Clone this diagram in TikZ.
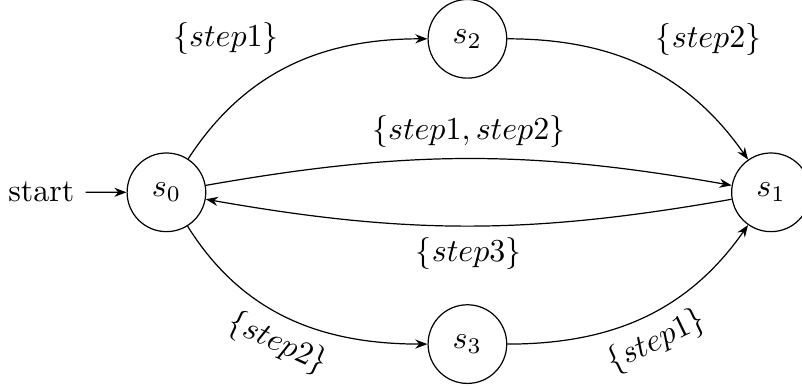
\documentclass[tikz,border=0pt]{standalone}
\usepackage{tikz}
\usetikzlibrary{arrows.meta,positioning}
\tikzset{
  S/.style = {draw, circle, minimum size=24.6pt, inner sep=0pt},
  A/.style = {-{Stealth[length=4pt,width=3pt]}},
}
\begin{document}
\begin{tikzpicture}[every node/.style={scale=1.055, transform shape}]
\useasboundingbox (0,0) rectangle (9.30,-4.47);

%% states
\node[S] (s0) at (1.93,-2.23) {$s_0$};
\node[S] (s1) at (8.94,-2.23) {$s_1$};
\node[S] (s2) at (5.42,-0.45) {$s_2$};
\node[S] (s3) at (5.42,-3.99) {$s_3$};

%% initial arrow
\node[left=13.5pt of s0] (init) {start};
\draw[A] (init) -- (s0);

%% transitions
\draw[A] (s0) to[out=57,in=180] node[above left] (l02) {$\{step1\}$} (s2);
\draw[A] (s2) to[out=0,in=125] node[above right] (l21) {$\{step2\}$} (s1);
\draw[A] (s0) to[out=10,in=170] node[above] (l01) {$\{step1, step2\}$} (s1);
\draw[A] (s1) to[out=190,in=-10] node[below] (l10) {$\{step3\}$} (s0);
\draw[A] (s0) to[out=-58,in=180] node[sloped, below] (l03) {$\{step2\}$} (s3);
\draw[A] (s3) to[out=0,in=235] node[sloped, below] (l31) {$\{step1\}$} (s1);

\end{tikzpicture}
\end{document}
